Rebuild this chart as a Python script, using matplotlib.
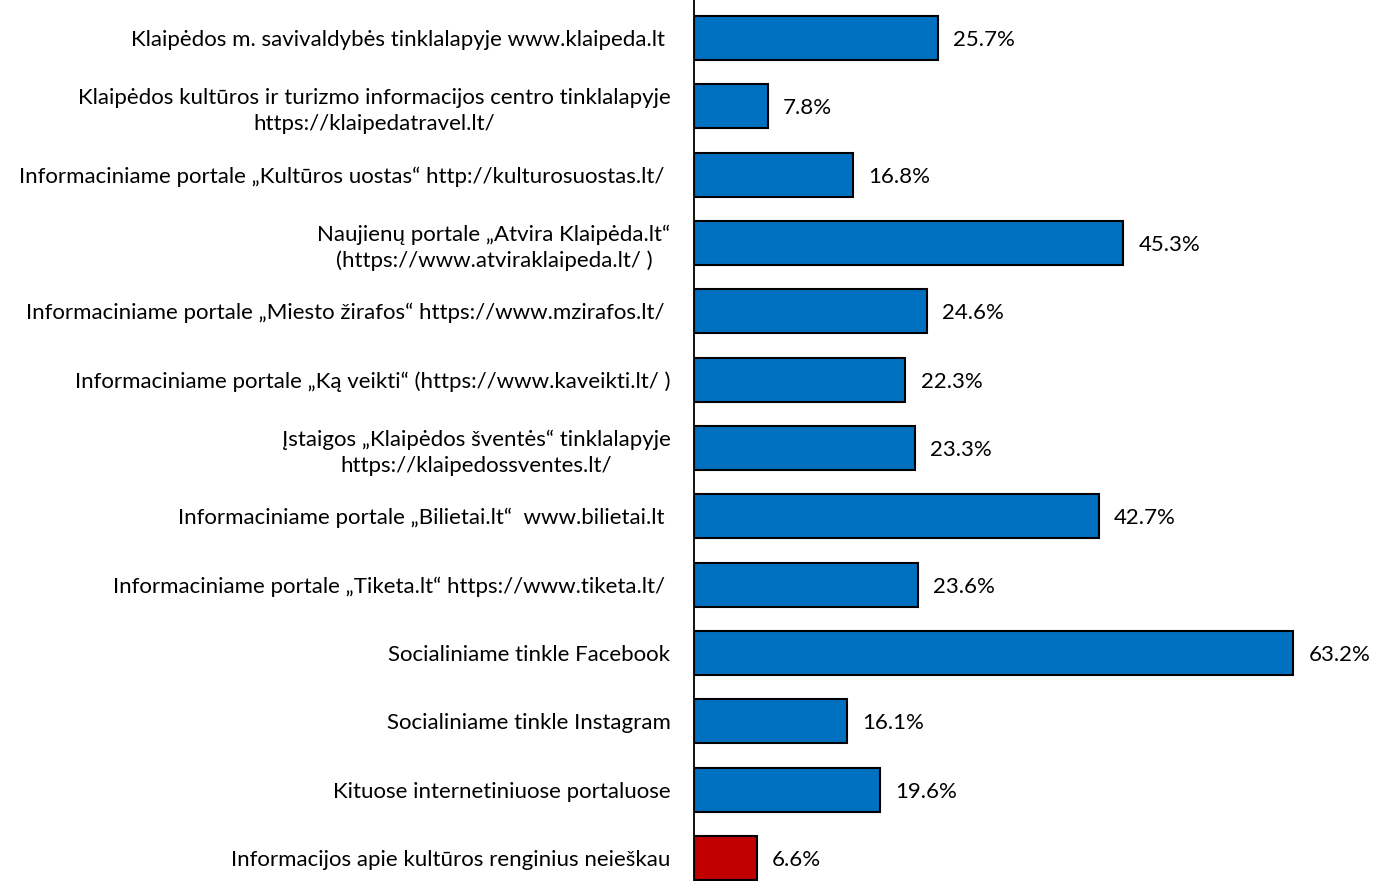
import matplotlib
matplotlib.use("Agg")
import matplotlib.pyplot as plt

categories = [
    "Klaipėdos m. savivaldybės tinklalapyje www.klaipeda.lt ",
    "Klaipėdos kultūros ir turizmo informacijos centro tinklalapyje\nhttps://klaipedatravel.lt/",
    "Informaciniame portale „Kultūros uostas“ http://kulturosuostas.lt/ ",
    "Naujienų portale „Atvira Klaipėda.lt“\n(https://www.atviraklaipeda.lt/ )",
    "Informaciniame portale „Miesto žirafos“ https://www.mzirafos.lt/ ",
    "Informaciniame portale „Ką veikti“ (https://www.kaveikti.lt/ )",
    "Įstaigos „Klaipėdos šventės“ tinklalapyje\nhttps://klaipedossventes.lt/",
    "Informaciniame portale „Bilietai.lt“  www.bilietai.lt ",
    "Informaciniame portale „Tiketa.lt“ https://www.tiketa.lt/ ",
    "Socialiniame tinkle Facebook",
    "Socialiniame tinkle Instagram",
    "Kituose internetiniuose portaluose",
    "Informacijos apie kultūros renginius neieškau",
]
values = [25.7, 7.8, 16.8, 45.3, 24.6, 22.3, 23.3, 42.7, 23.6, 63.2, 16.1, 19.6, 6.6]
value_labels = ["25.7%", "7.8%", "16.8%", "45.3%", "24.6%", "22.3%", "23.3%",
                "42.7%", "23.6%", "63.2%", "16.1%", "19.6%", "6.6%"]
colors = ["#0070C0"] * 12 + ["#C00000"]

plt.rcParams['font.family'] = ['Lato', 'DejaVu Sans']
W, H = 1373, 881
fig = plt.figure(figsize=(W / 100, H / 100), dpi=100)
ax = fig.add_axes([694 / W, 0, 1 - 694 / W, 1])

pos = list(range(len(values)))
ax.barh(pos, values, height=0.64, color=colors, edgecolor="black", linewidth=1.5)
ax.set_ylim(12.337, -0.556)
ax.set_xlim(0, (W - 694) / 9.48)

ax.set_yticks(pos)
ax.set_yticklabels(categories, fontsize=16, ha="right", multialignment="center",
                   linespacing=1.35)
ax.tick_params(axis="y", length=0, pad=17)
ax.set_xticks([])
for s in ["top", "right", "bottom"]:
    ax.spines[s].set_visible(False)
ax.spines["left"].set_linewidth(1.3)

for p, v, t in zip(pos, values, value_labels):
    ax.annotate(t, (v, p), xytext=(11, -1.5), textcoords="offset points",
                va="center", ha="left", fontsize=16)

fig.savefig("out.png", dpi=100)
